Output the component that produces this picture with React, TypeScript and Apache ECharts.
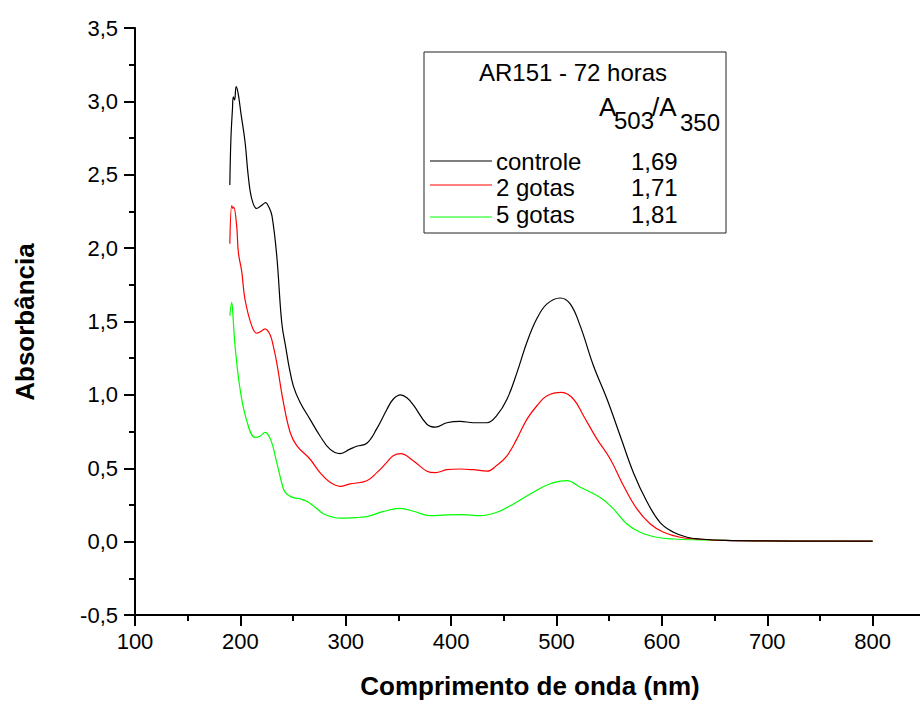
import React, { useEffect, useRef } from "react";
import * as echarts from "echarts";

// UV-Vis spectra: wavelength (nm), absorbance
const controle: [number, number][] = [
  [190, 2.43], [191, 2.74], [192.5, 2.95], [193.3, 3.03], [194.5, 3.01], [196, 3.1],
  [198, 3.05], [200.5, 2.92], [204.5, 2.72], [207.5, 2.49], [211, 2.33], [215.5, 2.27],
  [220, 2.29], [224, 2.31], [227, 2.28], [230, 2.22], [234.5, 1.95], [239.3, 1.49],
  [243.4, 1.31], [246, 1.2], [250.3, 1.06], [256.6, 0.95], [266, 0.835], [275.6, 0.72],
  [285, 0.63], [294.6, 0.6], [304, 0.63], [310.5, 0.65], [320, 0.67], [329.5, 0.77],
  [339, 0.9], [345, 0.97], [352, 1.0], [358, 0.98], [364.3, 0.93], [377, 0.8],
  [385, 0.78], [396, 0.81], [408.6, 0.82], [421, 0.81], [434, 0.81], [443.4, 0.86],
  [453, 0.97], [462.4, 1.15], [472, 1.36], [481.4, 1.52], [491, 1.62], [503.5, 1.66],
  [513, 1.62], [522.5, 1.47], [535, 1.2], [548, 0.97], [560.5, 0.72], [573, 0.47],
  [586, 0.27], [598.4, 0.13], [611, 0.064], [624, 0.03], [636.4, 0.018], [660, 0.008],
  [700, 0.005], [750, 0.003], [800, 0.003],
];

const gotas2: [number, number][] = [
  [190, 2.03], [191.8, 2.29], [192.8, 2.27], [193.7, 2.28], [196.5, 2.15], [198.1, 1.97],
  [201.3, 1.84], [204.4, 1.65], [210.8, 1.47], [215.5, 1.42], [219, 1.43], [223.4, 1.45],
  [228.2, 1.41], [231.3, 1.33], [234.5, 1.22], [240.8, 0.95], [247.2, 0.745], [253.5, 0.654],
  [266, 0.563], [275.6, 0.47], [285, 0.405], [294.6, 0.377], [304, 0.393], [320, 0.415],
  [329.5, 0.47], [339, 0.54], [345, 0.585], [352, 0.6], [364.3, 0.55], [377, 0.48],
  [385, 0.47], [396, 0.49], [408.6, 0.495], [421, 0.49], [434, 0.48], [443.4, 0.52],
  [453, 0.585], [462.4, 0.7], [472, 0.835], [481.4, 0.926], [491, 0.994], [505, 1.017],
  [516, 0.972], [525.6, 0.858], [538.3, 0.7], [551, 0.563], [563.6, 0.381], [576.3, 0.223],
  [589, 0.12], [601.6, 0.064], [617.4, 0.03], [633.3, 0.018], [660, 0.008], [700, 0.005],
  [800, 0.003],
];

const gotas5: [number, number][] = [
  [190, 1.54], [191.8, 1.63], [193.3, 1.5], [195, 1.33], [199.7, 1.04], [206, 0.825],
  [214, 0.71], [219, 0.72], [223.4, 0.745], [229, 0.69], [234.5, 0.54], [240.8, 0.36],
  [244, 0.325], [250.3, 0.3], [256.6, 0.292], [263, 0.275], [270, 0.24], [278.8, 0.19],
  [288.3, 0.166], [295, 0.16], [301, 0.16], [313.6, 0.166], [320, 0.17], [335, 0.204],
  [351.6, 0.227], [364.3, 0.207], [380, 0.177], [396, 0.182], [411.7, 0.184], [427.5, 0.177],
  [443.4, 0.2], [459.2, 0.257], [475, 0.325], [491, 0.386], [503.5, 0.412], [510, 0.415],
  [522.5, 0.37], [541.5, 0.3], [554, 0.223], [566.8, 0.12], [579.4, 0.064], [595.3, 0.03],
  [611, 0.018], [636.4, 0.012], [700, 0.005], [800, 0.002],
];

const seriesNames = ["controle", "2 gotas", "5 gotas"];
const seriesColors = ["#000000", "#ff0000", "#00ff00"];
const ratios = ["1,69", "1,71", "1,81"];
const legendTitle = "AR151 - 72 horas";

const FONT = "'Liberation Sans', Arial, Helvetica, sans-serif";

export default function App() {
  const ref = useRef<HTMLDivElement>(null);

  useEffect(() => {
    if (!ref.current) return;
    const chart = echarts.init(ref.current, undefined, { renderer: "svg" });

    const allData = [controle, gotas2, gotas5];
    const rowY = [161, 185, 217];
    const textY = [161, 187, 214];

    const legendItems: any[] = [];
    seriesNames.forEach((name, i) => {
      legendItems.push({
        type: "line",
        shape: { x1: 430, y1: rowY[i], x2: 492, y2: rowY[i] },
        style: { stroke: seriesColors[i], lineWidth: 1.2 },
      });
      legendItems.push({
        type: "text",
        x: 496,
        y: textY[i],
        style: { text: name, fill: "#000", fontSize: 24, fontFamily: FONT, align: "left", verticalAlign: "middle" },
      });
      legendItems.push({
        type: "text",
        x: 631,
        y: textY[i],
        style: { text: ratios[i], fill: "#000", fontSize: 24, fontFamily: FONT, align: "left", verticalAlign: "middle" },
      });
    });

    const txt = (text: string, x: number, y: number, size: number, extra: any = {}) => ({
      type: "text",
      x,
      y,
      ...extra,
      style: { text, fill: "#000", fontSize: size, fontFamily: FONT, align: "left", verticalAlign: "middle", ...(extra.style || {}) },
    });

    chart.setOption({
      animation: false,
      backgroundColor: "#ffffff",
      grid: { left: 135, top: 28, width: 843, height: 587, containLabel: false, outerBoundsMode: "none" },
      xAxis: {
        type: "value",
        min: 100,
        max: 900,
        interval: 100,
        axisLine: { show: true, onZero: false, lineStyle: { color: "#000", width: 2 } },
        axisTick: { show: true, length: 11, lineStyle: { color: "#000", width: 2 } },
        minorTick: { show: true, splitNumber: 2, length: 6, lineStyle: { color: "#000", width: 2 } },
        splitLine: { show: false },
        axisLabel: { color: "#000", fontSize: 22, fontFamily: FONT, margin: 15, showMaxLabel: false },
      },
      yAxis: {
        type: "value",
        min: -0.5,
        max: 3.5,
        interval: 0.5,
        axisLine: { show: true, onZero: false, lineStyle: { color: "#000", width: 2 } },
        axisTick: { show: true, length: 11, lineStyle: { color: "#000", width: 2 } },
        minorTick: { show: true, splitNumber: 2, length: 6, lineStyle: { color: "#000", width: 2 } },
        splitLine: { show: false },
        axisLabel: {
          color: "#000",
          fontSize: 22,
          fontFamily: FONT,
          margin: 17,
          formatter: (v: number) => v.toFixed(1).replace(".", ","),
        },
      },
      series: allData.map((d, i) => ({
        name: seriesNames[i],
        type: "line",
        data: d,
        symbol: "none",
        smooth: 0.4,
        clip: true,
        lineStyle: { color: seriesColors[i], width: 1.2 },
        z: 3 - i,
      })),
      graphic: [
        {
          type: "rect",
          shape: { x: 424, y: 52, width: 302, height: 181 },
          style: { fill: "none", stroke: "#222", lineWidth: 1 },
        },
        txt(legendTitle, 573, 72, 24, { style: { align: "center" } }),
        txt("A", 599, 107, 26),
        txt("503", 614, 120, 24),
        txt("/A", 652, 107, 26),
        txt("350", 680, 122, 24),
        ...legendItems,
        {
          type: "text",
          x: 530,
          y: 686,
          style: { text: "Comprimento de onda (nm)", fill: "#000", fontSize: 26, fontWeight: "bold", fontFamily: FONT, align: "center", verticalAlign: "middle" },
        },
        {
          type: "text",
          x: 25,
          y: 322,
          rotation: Math.PI / 2,
          style: { text: "Absorbância", fill: "#000", fontSize: 26, fontWeight: "bold", fontFamily: FONT, align: "center", verticalAlign: "middle" },
        },
      ],
    });

    return () => chart.dispose();
  }, []);

  return (
    <div
      ref={ref}
      style={{ position: "fixed", left: 0, top: 0, width: 920, height: 702, background: "#fff" }}
    />
  );
}
